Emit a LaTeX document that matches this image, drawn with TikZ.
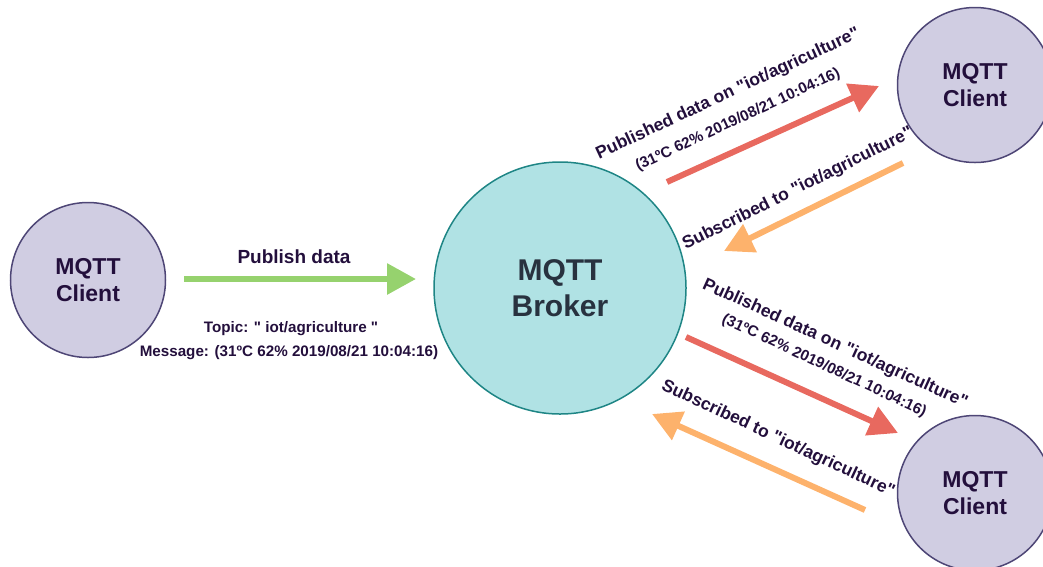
\documentclass[tikz,border=0pt]{standalone}
\usepackage{fontspec}
\setmainfont{Liberation Sans}[Ligatures=TeXOff]
\usetikzlibrary{arrows.meta}

\definecolor{clientfill}{HTML}{D0CDE2}
\definecolor{clientline}{HTML}{4E4676}
\definecolor{brokerfill}{HTML}{B0E2E4}
\definecolor{brokerline}{HTML}{1E8585}
\definecolor{inktext}{HTML}{230F3C}
\definecolor{brokertext}{HTML}{28323F}
\definecolor{pubgreen}{HTML}{96D26E}
\definecolor{pubred}{HTML}{E8695F}
\definecolor{subamber}{HTML}{FDB26C}

\tikzset{
  client/.style={circle, draw=clientline, line width=1.5pt, fill=clientfill,
    minimum size=155pt, inner sep=0pt, align=center, text=inktext,
    font=\bfseries\fontsize{23}{27}\selectfont},
  broker/.style={circle, draw=brokerline, line width=1.5pt, fill=brokerfill,
    minimum size=252pt, inner sep=0pt, align=center, text=brokertext,
    font=\bfseries\fontsize{30}{36}\selectfont},
  flow/.style={line width=6pt, -{Triangle[length=29pt, width=30pt]}},
  biglabel/.style={inner sep=0pt, text=inktext, font=\bfseries\fontsize{17.5}{20}\selectfont},
  smalllabel/.style={inner sep=0pt, text=inktext, font=\bfseries\fontsize{15.2}{18}\selectfont},
}

\begin{document}
\begin{tikzpicture}[x=1pt, y=-1pt]
\useasboundingbox (0,0) rectangle (1043,566);

% nodes
\node[client] (pub) at (88,280) {MQTT\\Client};
\node[broker] (broker) at (560,288) {MQTT\\Broker};
\node[client] (subA) at (975,85) {MQTT\\Client};
\node[client] (subB) at (975,493) {MQTT\\Client};

% free ends of the message arrows
\coordinate (g1) at (184,279);  \coordinate (g2) at (416,279);
\coordinate (r1) at (667,182);  \coordinate (r2) at (879,86);
\coordinate (o1) at (903,163);  \coordinate (o2) at (724,251);
\coordinate (r3) at (686,337);  \coordinate (r4) at (898,433);
\coordinate (o3) at (865,510);  \coordinate (o4) at (652,414);

\draw[flow, pubgreen] (g1) -- (g2);
\draw[flow, pubred] (r1) -- (r2);
\draw[flow, subamber] (o1) -- (o2);
\draw[flow, pubred] (r3) -- (r4);
\draw[flow, subamber] (o3) -- (o4);

% publisher side labels
\node[biglabel, font=\bfseries\fontsize{19}{22}\selectfont, anchor=base] (lpub) at (294,263) {Publish data};
\node[smalllabel, anchor=base] (ltopic) at (291,332) {Topic: " iot/agriculture "};
\node[smalllabel, anchor=base] (lmsg) at (289,356) {Message: (31ºC 62\% 2019/08/21 10:04:16)};

% upper subscriber labels
\node[biglabel, rotate=25] (lpubA) at (728,94) {Published data on "iot/agriculture"};
\node[smalllabel, rotate=25] (ldataA) at (738,120) {(31ºC 62\% 2019/08/21 10:04:16)};
\node[biglabel, rotate=26.5] (lsubA) at (798,189) {Subscribed to "iot/agriculture"};

% lower subscriber labels
\node[biglabel, rotate=-24.5] (lpubB) at (835,344) {Published data on "iot/agriculture"};
\node[smalllabel, rotate=-25] (ldataB) at (824,366) {(31ºC 62\% 2019/08/21 10:04:16)};
\node[biglabel, rotate=-25] (lsubB) at (778,439) {Subscribed to "iot/agriculture"};
\end{tikzpicture}
\end{document}
